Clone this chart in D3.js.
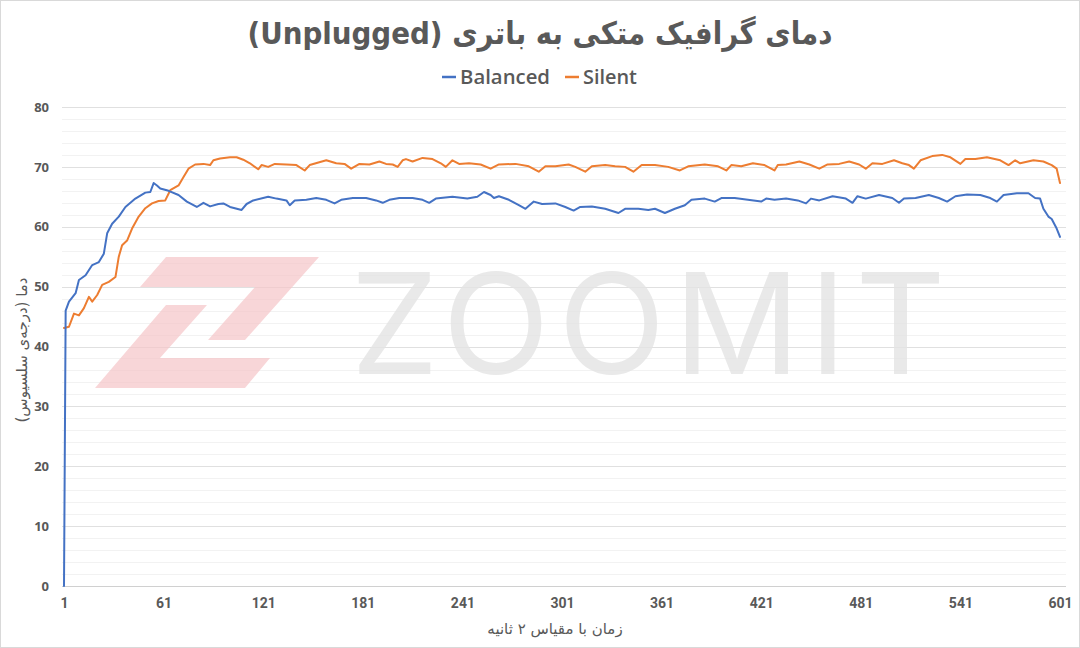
<!DOCTYPE html>
<html>
<head>
<meta charset="utf-8">
<script src="https://cdn.jsdelivr.net/npm/d3@7"></script>
<style>
  html, body { margin: 0; padding: 0; background: #fff; }
  svg { display: block; }
</style>
</head>
<body>
<svg id="chart" width="1080" height="648"></svg>
<script>
// ---- Data ----
const titleText = "دمای گرافیک متکی به باتری (Unplugged)";
const xAxisTitle = "زمان با مقیاس ۲ ثانیه";
const yAxisTitle = "دما (درجه‌ی سلسیوس)";
const seriesNames = ["Balanced", "Silent"];
const xTickLabels = [1, 61, 121, 181, 241, 301, 361, 421, 481, 541, 601];
const yTickLabels = [0, 10, 20, 30, 40, 50, 60, 70, 80];

const balancedX = [1,2,4,8,10,14,18,22,25,27,30,34,38,44,50,53,55,57,59,64,70,75,81,85,89,94,97,101,108,111,115,124,129,135,137,140,147,153,159,164,168,175,183,189,193,197,203,211,217,221,225,235,244,250,254,258,260,263,269,275,279,284,289,297,303,308,312,319,327,335,339,347,353,357,363,369,375,379,387,393,397,405,413,421,424,429,436,443,448,451,456,464,472,476,479,484,492,500,504,507,514,522,528,533,538,545,553,559,563,567,575,582,586,589,591,594,596,599,601];
const balancedY = [0,46.0,47.5,48.9,51.1,51.9,53.6,54.1,55.5,58.9,60.5,61.7,63.3,64.7,65.7,65.8,67.3,66.9,66.4,66.0,65.3,64.2,63.3,64.0,63.4,63.8,63.9,63.3,62.8,63.8,64.4,65.0,64.7,64.4,63.6,64.4,64.5,64.8,64.5,63.9,64.5,64.8,64.8,64.4,64.0,64.5,64.8,64.8,64.5,64.0,64.7,65.0,64.7,65.0,65.8,65.3,64.8,65.1,64.5,63.6,63.0,64.2,63.8,63.9,63.3,62.7,63.3,63.4,63.0,62.3,63.0,63.0,62.8,63.0,62.3,63.0,63.6,64.5,64.7,64.2,64.8,64.8,64.5,64.2,64.7,64.5,64.7,64.4,63.9,64.7,64.4,65.1,64.7,64.0,65.1,64.7,65.3,64.8,64.0,64.7,64.8,65.3,64.8,64.2,65.1,65.4,65.3,64.8,64.2,65.3,65.6,65.6,64.8,64.7,63.0,61.7,61.3,59.7,58.3];

const silentX = [1,4,7,10,13,16,18,21,24,28,32,34,36,39,42,46,50,54,58,62,65,70,73,76,80,85,89,91,95,101,105,109,113,118,120,124,128,135,141,146,149,159,165,170,174,179,185,191,195,199,202,205,207,211,217,223,228,231,235,239,245,252,258,263,273,281,287,291,297,305,309,315,319,327,333,339,344,349,357,365,372,377,387,395,400,403,409,416,423,429,431,436,444,450,456,461,468,474,480,484,488,494,501,506,510,513,517,524,530,535,541,544,550,557,565,570,574,577,585,591,596,599,601];
const silentY = [43.1,43.3,45.5,45.2,46.4,48.3,47.5,48.6,50.3,50.8,51.6,55.0,56.9,57.7,59.7,61.7,63.1,63.9,64.3,64.4,66.1,66.9,68.3,69.7,70.4,70.5,70.3,71.1,71.4,71.6,71.6,71.2,70.6,69.6,70.3,70.0,70.5,70.4,70.3,69.4,70.3,71.1,70.6,70.5,69.7,70.5,70.4,70.9,70.5,70.4,70.0,71.1,71.3,70.9,71.5,71.3,70.6,70.0,71.1,70.5,70.6,70.4,69.7,70.4,70.5,70.1,69.2,70.1,70.1,70.4,70.0,69.2,70.1,70.3,70.1,70.0,69.2,70.3,70.3,70.0,69.4,70.1,70.4,70.1,69.4,70.3,70.1,70.6,70.3,69.4,70.3,70.4,70.9,70.4,69.7,70.4,70.5,70.9,70.4,69.7,70.6,70.5,71.1,70.6,70.3,69.7,71.1,71.8,72.0,71.6,70.5,71.3,71.3,71.6,71.1,70.3,71.1,70.6,71.1,70.9,70.3,69.7,67.3];

const colors = ["#4472C4", "#ED7D31"];

// ---- Layout ----
const W = 1080, H = 648;
const plot = { left: 64, right: 1060, top: 107, bottom: 586 };
const svg = d3.select("#chart");

// outer frame
svg.append("rect").attr("x", 0.5).attr("y", 0.5).attr("width", W - 1).attr("height", H - 1)
  .attr("fill", "#fff").attr("stroke", "#d9d9d9");

const x = d3.scaleLinear().domain([1, 601]).range([plot.left, plot.right]);
const y = d3.scaleLinear().domain([0, 80]).range([plot.bottom, plot.top]);

// minor gridlines (every 2)
const minorTicks = d3.range(0, 81, 2).filter(v => v % 10 !== 0);
svg.append("g").selectAll("line").data(minorTicks).join("line")
  .attr("x1", plot.left - 2).attr("x2", plot.right + 6)
  .attr("y1", d => Math.round(y(d)) + 0.5).attr("y2", d => Math.round(y(d)) + 0.5)
  .attr("stroke", "#f2f2f2").attr("stroke-width", 1);

// major gridlines
svg.append("g").selectAll("line").data(yTickLabels.filter(v => v > 0)).join("line")
  .attr("x1", plot.left - 2).attr("x2", plot.right + 6)
  .attr("y1", d => Math.round(y(d)) + 0.5).attr("y2", d => Math.round(y(d)) + 0.5)
  .attr("stroke", "#e0e0e0").attr("stroke-width", 1);

// watermark
const wm = svg.append("g");
wm.append("path")
  .attr("d", "M166,257 L319,257 L245,340 L208,340 L255,287 L140,287 Z")
  .attr("fill", "#f5c4c8").attr("opacity", 0.7);
wm.append("path")
  .attr("d", "M166,305 L207,305 L160,358 L270,358 L245,388 L95,388 Z")
  .attr("fill", "#f5c4c8").attr("opacity", 0.7);
wm.append("text").attr("x", 648).attr("y", 374).attr("text-anchor", "middle")
  .attr("font-family", "Inter, 'Open Sans', sans-serif").attr("font-weight", 400)
  .attr("font-size", 140).attr("textLength", 595).attr("lengthAdjust", "spacing")
  .attr("fill", "#e4e4e4").attr("opacity", 0.8)
  .text("ZOOMIT");

// x axis line
svg.append("line").attr("x1", plot.left - 2).attr("x2", plot.right + 6)
  .attr("y1", plot.bottom + 0.5).attr("y2", plot.bottom + 0.5)
  .attr("stroke", "#d0d0d0").attr("stroke-width", 1);

// axes via d3
const yAxis = d3.axisLeft(y).tickValues(yTickLabels).tickSize(0).tickPadding(0);
const gy = svg.append("g").attr("transform", `translate(${plot.left - 15},0)`).call(yAxis);
gy.select(".domain").remove();
gy.selectAll("text").attr("font-family", "'Open Sans', 'DejaVu Sans', sans-serif")
  .attr("font-weight", 700).attr("font-size", 13).attr("fill", "#595959");

const xAxis = d3.axisBottom(x).tickValues(xTickLabels).tickSize(0).tickPadding(0);
const gx = svg.append("g").attr("transform", `translate(0,${plot.bottom + 12})`).call(xAxis);
gx.select(".domain").remove();
gx.selectAll("text").attr("font-family", "'Liberation Sans Narrow', 'Roboto', sans-serif")
  .attr("font-weight", 700).attr("font-size", 14).attr("fill", "#595959");

// lines
const series = [
  { name: seriesNames[0], xs: balancedX, ys: balancedY, color: colors[0] },
  { name: seriesNames[1], xs: silentX, ys: silentY, color: colors[1] }
];
const line = d3.line().x(d => x(d[0])).y(d => y(d[1])).curve(d3.curveLinear);
[series[1], series[0]].forEach(s => {
  svg.append("path")
    .datum(s.xs.map((xv, i) => [xv, s.ys[i]]))
    .attr("d", line)
    .attr("fill", "none").attr("stroke", s.color).attr("stroke-width", 2)
    .attr("stroke-linejoin", "round").attr("stroke-linecap", "round");
});

// title
svg.append("text").attr("x", 540).attr("y", 44).attr("text-anchor", "middle")
  .attr("font-family", "'DejaVu Sans', 'Noto Sans', sans-serif").attr("font-weight", 700)
  .attr("font-size", 31).attr("fill", "#595959").attr("direction", "rtl")
  .attr("textLength", 585).attr("lengthAdjust", "spacingAndGlyphs")
  .text(titleText);

// legend
const legend = svg.append("g");
const legendItems = [
  { name: seriesNames[0], color: colors[0], x: 442, w: 90 },
  { name: seriesNames[1], color: colors[1], x: 565, w: 54 }
];
legendItems.forEach(it => {
  legend.append("line").attr("x1", it.x).attr("x2", it.x + 14).attr("y1", 77).attr("y2", 77)
    .attr("stroke", it.color).attr("stroke-width", 2.5);
  legend.append("text").attr("x", it.x + 18).attr("y", 84)
    .attr("font-family", "'Open Sans', sans-serif").attr("font-weight", 600)
    .attr("font-size", 20).attr("fill", "#595959")
    .attr("textLength", it.w).attr("lengthAdjust", "spacingAndGlyphs").text(it.name);
});

// axis titles
svg.append("text").attr("x", 555).attr("y", 634).attr("text-anchor", "middle")
  .attr("font-family", "'DejaVu Sans', sans-serif").attr("font-size", 15)
  .attr("fill", "#595959").attr("direction", "rtl").text(xAxisTitle);

svg.append("text").attr("transform", "translate(27,350) rotate(-90)").attr("text-anchor", "middle")
  .attr("font-family", "'DejaVu Sans', sans-serif").attr("font-size", 15)
  .attr("fill", "#595959").attr("direction", "rtl").text(yAxisTitle);
</script>
</body>
</html>
